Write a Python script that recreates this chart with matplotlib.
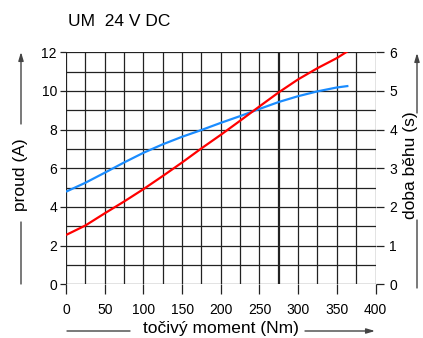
import matplotlib
matplotlib.use("Agg")
import matplotlib.pyplot as plt

plt.rcParams['font.family'] = ['Liberation Sans', 'DejaVu Sans']

# torque (Nm)
moment = [0, 25, 50, 75, 100, 125, 150, 175, 200, 225, 250, 275, 300, 325, 350, 365]
# current (A), blue
proud = [4.79, 5.25, 5.77, 6.3, 6.8, 7.24, 7.63, 7.98, 8.35, 8.7, 9.07, 9.43, 9.73, 9.98, 10.18, 10.26]
# running time (s), red
doba = [1.275, 1.52, 1.835, 2.14, 2.46, 2.8, 3.15, 3.515, 3.865, 4.23, 4.6, 4.965, 5.3, 5.59, 5.85, 6.04]

x_ticks = [0, 50, 100, 150, 200, 250, 300, 350, 400]
yl_ticks = [0, 2, 4, 6, 8, 10, 12]
yr_ticks = [0, 1, 2, 3, 4, 5, 6]

W, H = 423, 338
fig = plt.figure(figsize=(W / 100, H / 100), dpi=100)
ax = fig.add_axes([66 / W, 1 - 284.3 / H, (375.5 - 66) / W, (284.3 - 52.3) / H])

# grid
for gx in range(0, 401, 25):
    lw = 1.6 if gx == 275 else 0.9
    ax.axvline(gx, color='#222222', lw=lw, zorder=1)
for gy in range(0, 13):
    ax.axhline(gy, color='#222222', lw=0.9, zorder=1)

ax.plot(moment, proud, color='#1a8cff', lw=1.6, zorder=3, solid_capstyle='butt')

ax.set_xlim(0, 400)
ax.set_ylim(0, 12)
ax.set_xticks(x_ticks)
ax.set_yticks(yl_ticks)
for s in ax.spines.values():
    s.set_visible(False)
ax.tick_params(axis='x', length=7.5, width=0.9, pad=6, labelsize=10, color='#222222')
ax.tick_params(axis='y', length=4, width=0.9, pad=2.5, labelsize=10, color='#222222')

ax2 = ax.twinx()
ax2.plot(moment, doba, color='#ff0000', lw=1.6, zorder=3, solid_capstyle='butt')
ax2.set_ylim(0, 6)
ax2.set_yticks(yr_ticks)
for s in ax2.spines.values():
    s.set_visible(False)
ax2.tick_params(axis='y', length=6, width=0.9, pad=4, labelsize=10, color='#222222')

fig.text(68 / W, 1 - 22 / H, 'UM  24 V DC', fontsize=12.5, ha='left', va='center')

# axis captions with arrows
fig.text(21 / W, 1 - 175 / H, 'proud (A)', rotation=90, fontsize=12.5, ha='center', va='center')
fig.text(410 / W, 1 - 165 / H, 'doba běhu (s)', rotation=90, fontsize=12.5, ha='center', va='center')
fig.text(221 / W, 1 - 329 / H, 'točivý moment (Nm)', fontsize=12.5, ha='center', va='center')

arr = dict(arrowstyle='-|>,head_length=0.5,head_width=0.15', color='#444444', lw=1.0, shrinkA=0, shrinkB=0)
ln = dict(arrowstyle='-', color='#444444', lw=1.0, shrinkA=0, shrinkB=0)
fig_px = 'figure pixels'
ax.annotate('', xy=(21, H - 52), xytext=(21, H - 124), xycoords=fig_px, textcoords=fig_px, arrowprops=arr)
ax.annotate('', xy=(21, H - 222), xytext=(21, H - 284), xycoords=fig_px, textcoords=fig_px, arrowprops=ln)
ax.annotate('', xy=(417, H - 53), xytext=(417, H - 113), xycoords=fig_px, textcoords=fig_px, arrowprops=arr)
ax.annotate('', xy=(417, H - 220), xytext=(417, H - 288), xycoords=fig_px, textcoords=fig_px, arrowprops=ln)
ax.annotate('', xy=(67, H - 331), xytext=(130, H - 331), xycoords=fig_px, textcoords=fig_px, arrowprops=ln)
ax.annotate('', xy=(375, H - 331), xytext=(305, H - 331), xycoords=fig_px, textcoords=fig_px, arrowprops=arr)

fig.savefig('out.png', dpi=100)
